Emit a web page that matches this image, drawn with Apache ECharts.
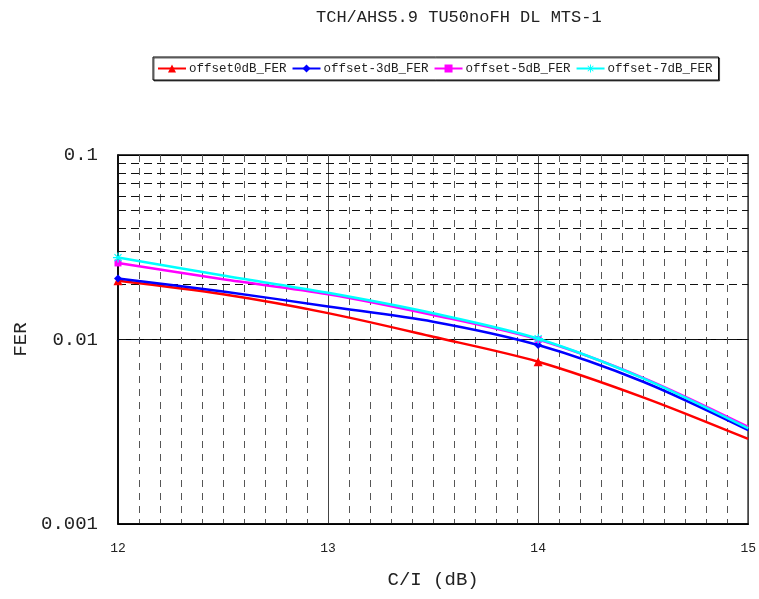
<!DOCTYPE html>
<html><head><meta charset="utf-8">
<script src="https://cdn.jsdelivr.net/npm/echarts@6/dist/echarts.min.js"></script>
<style>html,body{margin:0;padding:0;background:#fff}#c{width:759px;height:599px}</style>
</head><body><div id="c"></div>
<script>
var titleText = 'TCH/AHS5.9 TU50noFH DL MTS-1';
var xName = 'C/I (dB)';
var yName = 'FER';
var xValues = [12, 12.5, 13, 13.5, 14, 14.5, 15];
var markedX = [12, 14];
var seriesNames = ['offset0dB_FER', 'offset-3dB_FER', 'offset-5dB_FER', 'offset-7dB_FER'];
var offset0 = [0.0208, 0.01758, 0.0139, 0.01035, 0.00758, 0.00486, 0.00289];
var offset3 = [0.0214, 0.0182, 0.0151, 0.01249, 0.00933, 0.0059, 0.00323];
var offset5 = [0.0260, 0.0212, 0.0176, 0.01358, 0.0100, 0.0062, 0.00336];
var offset7 = [0.0278, 0.0222, 0.0179, 0.01387, 0.0101, 0.00616, 0.00330];
var yMinorLines = [0.002,0.003,0.004,0.005,0.006,0.007,0.008,0.009,0.02,0.03,0.04,0.05,0.06,0.07,0.08,0.09];

var FONT = '"Liberation Mono", "DejaVu Sans Mono", monospace';
var colors = ['#ff0000', '#0000ff', '#ff00ff', '#00ffff'];
var asterisk = 'path://M-0.6,-5 L0.6,-5 L0.6,5 L-0.6,5 Z M-5,-0.6 L5,-0.6 L5,0.6 L-5,0.6 Z M-3.9,-3.1 L-3.1,-3.9 L3.9,3.1 L3.1,3.9 Z M3.1,-3.9 L3.9,-3.1 L-3.1,3.9 L-3.9,3.1 Z';
var symbols = ['triangle', 'diamond', 'rect', asterisk];
var symbolSizes = [9, 8, 7, 10];
var allVals = [offset0, offset3, offset5, offset7];

function mkData(vals) {
  return xValues.map(function (x, i) {
    var d = { value: [x, vals[i]] };
    if (markedX.indexOf(x) < 0) d.symbol = 'none';
    return d;
  });
}

var series = seriesNames.map(function (n, k) {
  return {
    name: n, type: 'line', smooth: 0.3,
    data: mkData(allVals[k]),
    symbol: symbols[k], symbolSize: symbolSizes[k], showSymbol: true,
    lineStyle: { color: colors[k], width: 2.5 },
    itemStyle: { color: colors[k] },
    z: 5 + k, clip: true
  };
});
series.unshift({
  type: 'line', data: [], silent: true, z: 1,
  markLine: {
    silent: true, symbol: 'none', label: { show: false },
    lineStyle: { color: '#111', type: [8, 5], width: 1 },
    emphasis: { disabled: true },
    data: yMinorLines.map(function (v) { return { yAxis: v }; })
  }
});

var chart = echarts.init(document.getElementById('c'), null, { renderer: 'canvas' });
chart.setOption({
  animation: false,
  backgroundColor: '#fff',
  title: {
    text: titleText, left: 311, top: 4,
    textStyle: { fontFamily: FONT, fontSize: 17, fontWeight: 'normal', color: '#222' }
  },
  legend: {
    data: seriesNames, left: 153, top: 57,
    padding: [5, 6, 5, 4], itemGap: 5, itemWidth: 28, itemHeight: 10,
    borderColor: '#000', borderWidth: 1,
    shadowColor: 'rgba(0,0,0,0.6)', shadowOffsetX: 1, shadowOffsetY: 1, shadowBlur: 0,
    backgroundColor: '#fff',
    textStyle: { fontFamily: FONT, fontSize: 12.5, color: '#222', padding: [0, 0, 0, -2] }
  },
  grid: {
    left: 118, right: 7, top: 155, bottom: 75,
    show: true, borderColor: '#000', borderWidth: 1.5, containLabel: false
  },
  xAxis: {
    type: 'value', min: 12, max: 15, interval: 1,
    name: xName, nameLocation: 'middle', nameGap: 46,
    nameTextStyle: { fontFamily: FONT, fontSize: 19, color: '#222' },
    axisLine: { show: true, lineStyle: { color: '#000', width: 1.5 } },
    axisTick: { show: false },
    axisLabel: { fontFamily: FONT, fontSize: 13, color: '#222', margin: 18 },
    splitLine: { show: true, lineStyle: { color: '#444', width: 1 } },
    minorTick: { show: false, splitNumber: 10 },
    minorSplitLine: { show: true, lineStyle: { color: '#555', type: [7, 6], width: 1 } }
  },
  yAxis: {
    type: 'log', logBase: 10, min: 0.001, max: 0.1,
    name: yName, nameLocation: 'middle', nameGap: 82, nameRotate: 90,
    nameTextStyle: { fontFamily: FONT, fontSize: 19, color: '#222' },
    axisLine: { show: true, lineStyle: { color: '#000', width: 1.5 } },
    axisTick: { show: false },
    axisLabel: {
      fontFamily: FONT, fontSize: 19, color: '#222', margin: 20,
      formatter: function (v) { return String(+v.toPrecision(3)); }
    },
    splitLine: { show: true, lineStyle: { color: '#000', width: 1 } }
  },
  series: series
});
</script></body></html>
